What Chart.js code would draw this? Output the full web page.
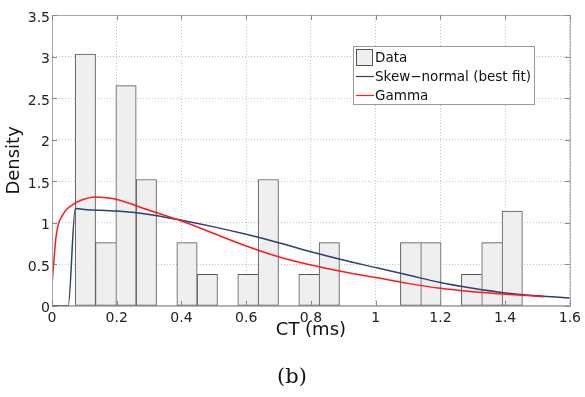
<!DOCTYPE html>
<html lang="en">
<head>
  <meta charset="UTF-8" />
  <title>CT density</title>
  <script src="https://cdn.jsdelivr.net/npm/chart.js"></script>
  <style>
    body { margin: 0; background: #fff; }
    #wrap { width: 585px; height: 397px; }
  </style>
</head>
<body>
  <div id="wrap"><canvas id="ctChart" width="585" height="397"></canvas></div>

  <script>
    // histogram bins (centres in ms) and densities
    const binCenters = [0.1031, 0.1659, 0.2287, 0.2915, 0.3543, 0.4171, 0.4799, 0.5427, 0.6055, 0.6683, 0.7311,
                        0.7939, 0.8567, 0.9195, 0.9823, 1.0451, 1.1079, 1.1707, 1.2335, 1.2963, 1.3591, 1.4219];
    const binDensity = [3.03, 0.76, 2.65, 1.52, 0, 0.76, 0.38, 0, 0.38, 1.52, 0,
                        0.38, 0.76, 0, 0, 0, 0.76, 0.76, 0, 0.38, 0.76, 1.14];

    // fitted curves
    const skewX = [0, 0.05, 0.072, 0.1, 0.2, 0.3, 0.4, 0.5, 0.6, 0.7, 0.8, 0.9, 1.0, 1.1, 1.2, 1.3, 1.4, 1.5, 1.6];
    const skewY = [0, 0, 1.17, 1.16, 1.14, 1.10, 1.03, 0.95, 0.86, 0.76, 0.65, 0.55, 0.46, 0.37, 0.28, 0.21, 0.155, 0.12, 0.094];
    const gammaX = [0, 0.0135, 0.034, 0.065, 0.096, 0.133, 0.168, 0.2, 0.3, 0.4, 0.5, 0.6, 0.7, 0.8, 0.9, 1.0, 1.1, 1.2, 1.3, 1.4, 1.52];
    const gammaY = [0.26, 0.86, 1.10, 1.22, 1.28, 1.31, 1.30, 1.28, 1.15, 1.02, 0.87, 0.72, 0.59, 0.49, 0.41, 0.34, 0.27, 0.21, 0.17, 0.14, 0.11];

    const xTicks = [0, 0.2, 0.4, 0.6, 0.8, 1, 1.2, 1.4, 1.6];
    const xTickLabels = ['0', '0.2', '0.4', '0.6', '0.8', '1', '1.2', '1.4', '1.6'];
    const yTicks = [0, 0.5, 1, 1.5, 2, 2.5, 3, 3.5];
    const yTickLabels = ['0', '0.5', '1', '1.5', '2', '2.5', '3', '3.5'];

    const seriesNames = ['Data', 'Skew\u2212normal (best fit)', 'Gamma'];

    const sans = 'DejaVu Sans';
    const gridColor = '#c4c4c4';
    const boxColor = '#a8a8a8';

    // frame with inner ticks (matlab box) + legend inside the axes
    const framePlugin = {
      id: 'frame',
      afterDatasetsDraw(chart) {
        const { ctx, chartArea: a, scales } = chart;
        ctx.save();
        ctx.strokeStyle = boxColor;
        ctx.lineWidth = 1;
        ctx.strokeRect(a.left + 0.5, a.top + 0.5, a.right - a.left, a.bottom - a.top);
        ctx.strokeStyle = '#888';
        ctx.beginPath();
        xTicks.forEach(v => {
          const px = Math.round(scales.x.getPixelForValue(v)) + 0.5;
          ctx.moveTo(px, a.bottom); ctx.lineTo(px, a.bottom - 5);
          ctx.moveTo(px, a.top); ctx.lineTo(px, a.top + 5);
        });
        yTicks.forEach(v => {
          const py = Math.round(scales.y.getPixelForValue(v)) + 0.5;
          ctx.moveTo(a.left, py); ctx.lineTo(a.left + 5, py);
          ctx.moveTo(a.right, py); ctx.lineTo(a.right - 5, py);
        });
        ctx.stroke();
        ctx.restore();
      },
      afterDraw(chart) {
        const ctx = chart.ctx;
        const ds = chart.data.datasets;
        const bx = 353.5, by = 46.5, bw = 181, bh = 58;
        ctx.save();
        ctx.fillStyle = '#fff';
        ctx.fillRect(bx, by, bw, bh);
        ctx.strokeStyle = '#999';
        ctx.lineWidth = 1;
        ctx.strokeRect(bx, by, bw, bh);

        ctx.font = '13.5px "' + sans + '"';
        ctx.textBaseline = 'middle';
        const rows = [57, 76, 95];
        // Data swatch
        ctx.fillStyle = ds[0].backgroundColor;
        ctx.fillRect(356.5, 49.5, 16, 16);
        ctx.strokeStyle = ds[0].borderColor;
        ctx.strokeRect(356.5, 49.5, 16, 16);
        // line swatches
        [1, 2].forEach(i => {
          ctx.strokeStyle = ds[i].borderColor;
          ctx.lineWidth = 1.2;
          ctx.beginPath();
          ctx.moveTo(356, rows[i] + 0.5);
          ctx.lineTo(374, rows[i] + 0.5);
          ctx.stroke();
        });
        ctx.fillStyle = '#111';
        rows.forEach((y, i) => ctx.fillText(ds[i].label, 375, y + 1));
        ctx.restore();
      }
    };

    const barData = binCenters.map((c, i) => ({ x: c, y: binDensity[i] }));

    new Chart(document.getElementById('ctChart'), {
      type: 'bar',
      data: {
        datasets: [
          {
            label: seriesNames[0],
            data: barData,
            backgroundColor: '#efefef',
            borderColor: '#555',
            borderSkipped: false,
            borderWidth: ctx => {
              const i = ctx.dataIndex;
              const cur = binDensity[i];
              const next = i + 1 < binDensity.length ? binDensity[i + 1] : 0;
              return { top: 1, left: 1, bottom: 1, right: next < cur ? 1 : 0 };
            },
            barPercentage: 1,
            categoryPercentage: 1,
            order: 3
          },
          {
            type: 'line',
            label: seriesNames[1],
            data: skewX.map((x, i) => ({ x: x, y: skewY[i] })),
            borderColor: '#2f3f6f',
            borderWidth: 1.5,
            pointRadius: 0,
            cubicInterpolationMode: 'monotone',
            order: 2
          },
          {
            type: 'line',
            label: seriesNames[2],
            data: gammaX.map((x, i) => ({ x: x, y: gammaY[i] })),
            borderColor: '#ff1a1a',
            borderWidth: 1.5,
            pointRadius: 0,
            cubicInterpolationMode: 'monotone',
            order: 1
          }
        ]
      },
      options: {
        responsive: false,
        animation: false,
        layout: { padding: { top: 15, right: 13, bottom: 0, left: 12 } },
        plugins: {
          legend: { display: false },
          tooltip: { enabled: false },
          title: {
            display: true,
            position: 'bottom',
            text: '(b)',
            color: '#111',
            font: { family: 'DejaVu Serif', size: 21, weight: 'normal' },
            padding: { top: 22, bottom: 7 }
          }
        },
        scales: {
          x: {
            type: 'linear',
            min: 0,
            max: 1.6,
            offset: false,
            afterBuildTicks: s => { s.ticks = xTicks.map(v => ({ value: v })); },
            afterFit: s => { s.height = 37; },
            ticks: {
              callback: (v, i) => xTickLabels[i],
              color: '#222',
              font: { family: sans, size: 14 },
              padding: 4,
              maxRotation: 0,
              autoSkip: false
            },
            grid: { color: gridColor, lineWidth: 1, drawTicks: false, offset: false },
            border: { color: boxColor, dash: [1, 2] },
            title: {
              display: true,
              text: 'CT (ms)',
              color: '#111',
              font: { family: sans, size: 18 },
              padding: { top: 0, bottom: 2 }
            }
          },
          y: {
            min: 0,
            max: 3.5,
            afterBuildTicks: s => { s.ticks = yTicks.map(v => ({ value: v })); },
            afterFit: s => { s.width = 40; },
            ticks: {
              callback: (v, i) => yTickLabels[i],
              color: '#222',
              font: { family: sans, size: 14 },
              padding: 2,
              labelOffset: 3
            },
            grid: { color: gridColor, lineWidth: 1, drawTicks: false },
            border: { color: boxColor, dash: [1, 2] },
            title: {
              display: true,
              text: 'Density',
              color: '#111',
              font: { family: sans, size: 18 },
              padding: { top: -8, bottom: 0 }
            }
          }
        }
      },
      plugins: [framePlugin]
    });
  </script>
</body>
</html>
